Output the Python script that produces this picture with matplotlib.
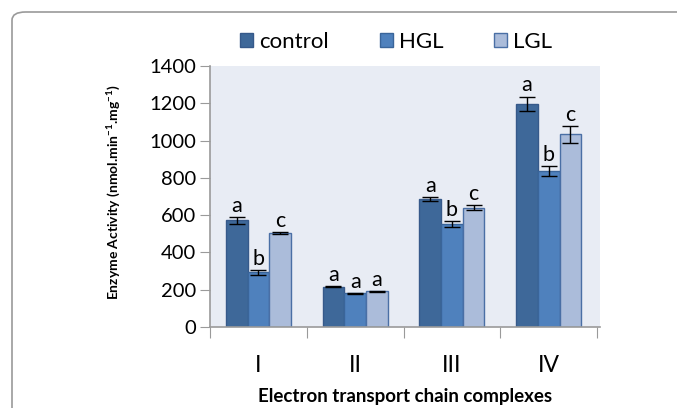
import matplotlib
matplotlib.use("Agg")
import matplotlib.pyplot as plt
from matplotlib.patches import FancyBboxPatch
import numpy as np

# data
complexes = ["I", "II", "III", "IV"]
control = [572, 216, 686, 1198]
control_err = [18, 3, 10, 38]
hgl = [293, 181, 552, 837]
hgl_err = [12, 3, 16, 28]
lgl = [502, 191, 640, 1034]
lgl_err = [5, 3, 12, 45]
letters_control = ["a", "a", "a", "a"]
letters_hgl = ["b", "a", "b", "b"]
letters_lgl = ["c", "a", "c", "c"]

plt.rcParams["font.family"] = ["Lato", "DejaVu Sans"]
plt.rcParams["mathtext.fontset"] = "custom"
plt.rcParams["mathtext.rm"] = "Lato"
plt.rcParams["mathtext.bf"] = "Lato:bold"

fig = plt.figure(figsize=(6.77, 4.08), dpi=100)

# rounded frame around the figure (runs off right and bottom)
frame = FancyBboxPatch((12 / 677, -0.1), 1.2, 1 - 12 / 408 + 0.1,
                       boxstyle="round,pad=0,rounding_size=0.02",
                       transform=fig.transFigure, facecolor="none",
                       edgecolor="#9a9a9a", linewidth=1.2, zorder=0)
fig.patches.append(frame)

ax = fig.add_axes([210 / 677, 1 - 327 / 408, 390 / 677, 261 / 408])
ax.set_facecolor("#e8ecf4")

x = np.arange(len(complexes))
w = 0.224
series = [
    (control, control_err, letters_control, "control", "#3e6899", "#36598a", -w),
    (hgl, hgl_err, letters_hgl, "HGL", "#4f81bd", "#3a659a", 0),
    (lgl, lgl_err, letters_lgl, "LGL", "#abbcda", "#4a6fa5", w),
]
for vals, errs, letters, name, fc, ec, off in series:
    ax.bar(x + off, vals, width=w, color=fc, edgecolor=ec, linewidth=1,
           label=name, zorder=2)
    ax.errorbar(x + off, vals, yerr=errs, fmt="none", ecolor="black",
                elinewidth=1, capsize=5.5, capthick=1, zorder=3)
    for xi, v, e, t in zip(x + off, vals, errs, letters):
        ax.text(xi, v + e + 6, t, ha="center", va="bottom", fontsize=15.5,
                color="black", zorder=4)

ax.set_xlim(-0.5, 3.53)
ax.set_ylim(0, 1400)
ax.set_yticks(range(0, 1401, 200))
ax.tick_params(axis="y", labelsize=14.5, length=7, color="#9a9a9a", pad=3)
ax.set_xticks(np.arange(-0.5, 4, 1))
ax.set_xticklabels([])
ax.set_xticks(x, complexes, minor=True)
ax.tick_params(axis="x", which="major", length=8, color="#9a9a9a")
ax.tick_params(axis="x", which="minor", length=0, labelsize=16.5, pad=20)

for s in ["top", "right"]:
    ax.spines[s].set_visible(False)
for s in ["left", "bottom"]:
    ax.spines[s].set_color("#9a9a9a")
    ax.spines[s].set_linewidth(1.2)

ax.set_xlabel("Electron transport chain complexes", fontsize=13.5,
              fontweight="bold", labelpad=9)
fig.text(113 / 677, 1 - 192 / 408,
         r"Enzyme Activity (nmol.min$^{\mathbf{-1}}$.mg$^{\mathbf{-1}}$)",
         rotation=90, ha="center", va="center", fontsize=10,
         fontweight="bold")

fig.legend(loc="center", bbox_to_anchor=(396 / 677, 1 - 42 / 408), ncol=3,
           frameon=False, fontsize=16, handlelength=0.6, handleheight=0.6,
           handletextpad=0.25, columnspacing=2.3, borderaxespad=0)

fig.savefig("out.png", dpi=100)
